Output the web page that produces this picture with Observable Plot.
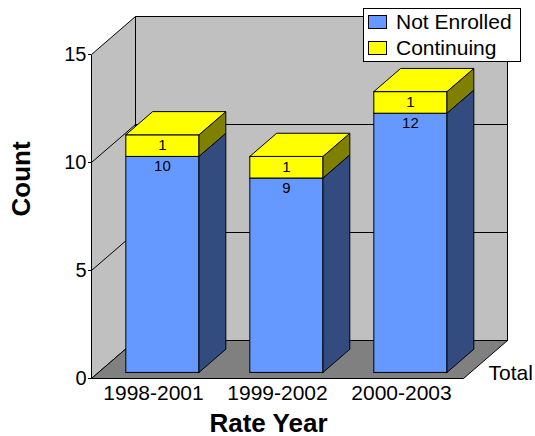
<!DOCTYPE html>
<html>
<head>
<meta charset="utf-8">
<script src="https://cdn.jsdelivr.net/npm/d3@7"></script>
<script src="https://cdn.jsdelivr.net/npm/@observablehq/plot@0.6"></script>
<style>
  html, body { margin: 0; padding: 0; background: #fff; }
  #wrap { position: relative; width: 535px; height: 436px; font-family: "Liberation Sans", Arial, sans-serif; }
  #legend { position: absolute; left: 363px; top: 8px; width: 156px; height: 52px; border: 1px solid #000; background: #fff; }
  .item { position: absolute; left: 4px; height: 26px; display: flex; align-items: center; font-size: 21px; color: #000; }
  .sw { width: 17px; height: 12px; border: 1px solid #000; margin-right: 9px; }
</style>
</head>
<body>
<div id="wrap"></div>
<script>
const categories = ["1998-2001", "1999-2002", "2000-2003"];
const notEnrolled = [10, 9, 12];
const continuing = [1, 1, 1];
const seriesNames = ["Not Enrolled", "Continuing"];
const yTicks = [0, 5, 10, 15];
const yMax = 15;

const frontColors = ["#6699FF", "#FFFF00"];
const sideColors = ["#334C80", "#808000"];
const topColor = "#FFFF00";

// oblique projection: depth d in [0,1] shifts by (DXU band units, DYU value units)
const DXU = 44 / 124, DYU = 38 / 21.6;
const proj = (u, v, d) => ({x: u + DXU * d, y: v + DYU * d});
const D0 = 0.16, D1 = 0.77, U0 = 0.22, U1 = 0.81;
const nCat = categories.length;

function poly(pts, fill) {
  const p = pts.concat([pts[0]]);
  return Plot.line(p, {x: "x", y: "y", fill, stroke: "#000", strokeWidth: 1, strokeLinejoin: "round", curve: "linear"});
}

const marks = [];
// walls & floor
marks.push(poly([proj(0, 0, 1), proj(nCat, 0, 1), proj(nCat, yMax, 1), proj(0, yMax, 1)], "#C0C0C0"));
marks.push(poly([proj(0, 0, 0), proj(0, 0, 1), proj(0, yMax, 1), proj(0, yMax, 0)], "#C0C0C0"));
marks.push(poly([proj(0, 0, 0), proj(nCat, 0, 0), proj(nCat, 0, 1), proj(0, 0, 1)], "#808080"));
// grid lines
for (const t of yTicks.filter(t => t > 0 && t < yMax)) {
  marks.push(Plot.line([proj(0, t, 0), proj(0, t, 1), proj(nCat, t, 1)], {x: "x", y: "y", stroke: "#000", strokeWidth: 1}));
}
// bars
const topLabels = [], midLabels = [];
categories.forEach((c, i) => {
  const segs = [[0, notEnrolled[i]], [notEnrolled[i], notEnrolled[i] + continuing[i]]];
  segs.forEach(([a, b], s) => {
    marks.push(poly([proj(i + U0, a, D0), proj(i + U1, a, D0), proj(i + U1, b, D0), proj(i + U0, b, D0)], frontColors[s]));
    marks.push(poly([proj(i + U1, a, D0), proj(i + U1, a, D1), proj(i + U1, b, D1), proj(i + U1, b, D0)], sideColors[s]));
  });
  const T = notEnrolled[i] + continuing[i];
  marks.push(poly([proj(i + U0, T, D0), proj(i + U1, T, D0), proj(i + U1, T, D1), proj(i + U0, T, D1)], topColor));
  topLabels.push({...proj(i + (U0 + U1) / 2, notEnrolled[i], D0), text: String(notEnrolled[i])});
  midLabels.push({...proj(i + (U0 + U1) / 2, notEnrolled[i] + continuing[i] / 2, D0), text: String(continuing[i])});
});
marks.push(Plot.text(topLabels, {x: "x", y: "y", text: "text", dy: 10, fontSize: 15, fill: "#000"}));
marks.push(Plot.text(midLabels, {x: "x", y: "y", text: "text", fontSize: 15, fill: "#000"}));
// category labels
marks.push(Plot.text(categories.map((c, i) => ({x: i + 0.5, y: 0, text: c})), {x: "x", y: "y", text: "text", dy: 15, fontSize: 21, fill: "#000"}));
marks.push(Plot.text([{x: nCat, y: 0, text: "Total"}], {x: "x", y: "y", text: "text", dx: 25, dy: -5, textAnchor: "start", fontSize: 21, fill: "#000"}));
// axis titles
marks.push(Plot.text(["Count"], {frameAnchor: "left", text: d => d, rotate: -90, dx: -70, fontSize: 26, fontWeight: "bold", fill: "#000"}));
marks.push(Plot.text(["Rate Year"], {frameAnchor: "bottom", text: d => d, dx: -9, dy: 53, fontSize: 26, fontWeight: "bold", fill: "#000"}));

const chart = Plot.plot({
  width: 535,
  height: 436,
  marginLeft: 91,
  marginRight: 72,
  marginTop: 54,
  marginBottom: 58,
  x: {domain: [0, nCat], axis: null},
  y: {domain: [0, yMax], ticks: yTicks, tickSize: 3, tickPadding: 2, label: null, tickFormat: d => String(d)},
  style: {fontFamily: "'Liberation Sans', Arial, sans-serif", fontSize: "20px", background: "#fff", color: "#000", overflow: "visible"},
  marks
});

const wrap = document.getElementById("wrap");
wrap.appendChild(chart);
const legend = document.createElement("div");
legend.id = "legend";
seriesNames.forEach((name, s) => {
  const it = document.createElement("div");
  it.className = "item";
  it.style.top = (s * 26) + "px";
  const sw = document.createElement("div");
  sw.className = "sw";
  sw.style.background = frontColors[s];
  it.appendChild(sw);
  it.appendChild(document.createTextNode(name));
  legend.appendChild(it);
});
wrap.appendChild(legend);
</script>
</body>
</html>
